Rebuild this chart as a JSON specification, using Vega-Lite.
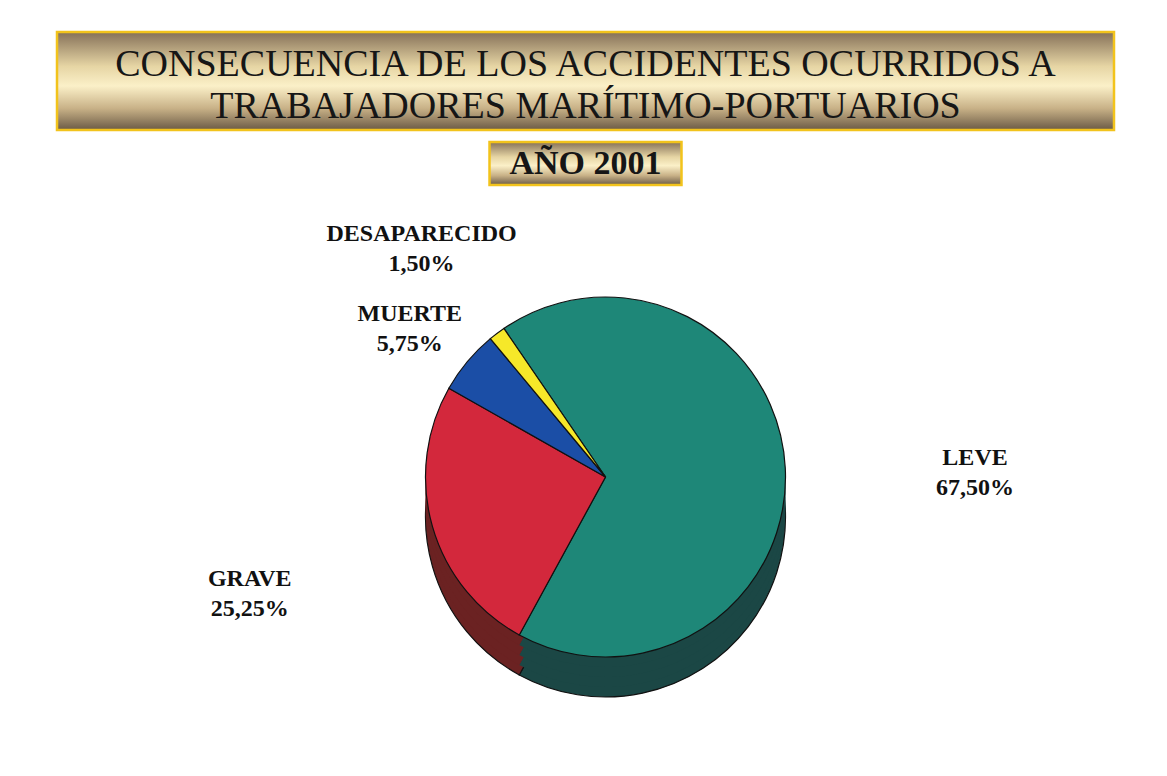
{
  "$schema": "https://vega.github.io/schema/vega-lite/v6.json",
  "background": "white",
  "padding": {"top": 30, "left": 55, "right": 0, "bottom": 0},
  "config": {"view": {"stroke": null}, "font": "Liberation Serif"},
  "spacing": 12,
  "center": true,
  "bounds": "flush",
  "vconcat": [
    {
      "width": 1057,
      "height": 98,
      "data": {"values": [{"titulo": "CONSECUENCIA DE LOS ACCIDENTES OCURRIDOS A\nTRABAJADORES MARÍTIMO-PORTUARIOS"}]},
      "layer": [
        {
          "mark": {
            "type": "rect",
            "color": {"gradient": "linear", "x1": 0, "y1": 0, "x2": 0, "y2": 1,
              "stops": [
                {"offset": 0, "color": "#857058"},
                {"offset": 0.35, "color": "#e6d5a4"},
                {"offset": 0.55, "color": "#fbf0c8"},
                {"offset": 0.78, "color": "#c8b187"},
                {"offset": 1, "color": "#6b5a45"}
              ]},
            "stroke": "#f2c31c",
            "strokeWidth": 2.5
          },
          "encoding": {}
        },
        {
          "mark": {"type": "text", "lineBreak": "\n", "fontSize": 38, "lineHeight": 42, "dy": -16, "color": "#161616", "font": "Liberation Serif"},
          "encoding": {"text": {"field": "titulo", "type": "nominal"}}
        }
      ]
    },
    {
      "width": 192,
      "height": 43,
      "data": {"values": [{"titulo": "AÑO 2001"}]},
      "layer": [
        {
          "mark": {
            "type": "rect",
            "color": {"gradient": "linear", "x1": 0, "y1": 0, "x2": 0, "y2": 1,
              "stops": [
                {"offset": 0, "color": "#857058"},
                {"offset": 0.35, "color": "#e6d5a4"},
                {"offset": 0.55, "color": "#fbf0c8"},
                {"offset": 0.78, "color": "#c8b187"},
                {"offset": 1, "color": "#6b5a45"}
              ]},
            "stroke": "#f2c31c",
            "strokeWidth": 2.5
          },
          "encoding": {}
        },
        {
          "mark": {"type": "text", "fontSize": 34, "fontWeight": "bold", "color": "#161616", "font": "Liberation Serif"},
          "encoding": {"text": {"field": "titulo", "type": "nominal"}}
        }
      ]
    },
    {
      "width": 1057,
      "height": 570,
      "data": {"values": [
        {"categoria": "LEVE", "porcentaje": 67.5, "orden": 1, "etiqueta": "LEVE\n67,50%"},
        {"categoria": "GRAVE", "porcentaje": 25.25, "orden": 2, "etiqueta": "GRAVE\n25,25%"},
        {"categoria": "MUERTE", "porcentaje": 5.75, "orden": 3, "etiqueta": "MUERTE\n5,75%"},
        {"categoria": "DESAPARECIDO", "porcentaje": 1.5, "orden": 4, "etiqueta": "DESAPARECIDO\n1,50%"}
      ]},
      "encoding": {
        "theta": {"field": "porcentaje", "type": "quantitative", "stack": true, "scale": {"range": [-0.6, 5.6832]}},
        "order": {"field": "orden", "type": "quantitative"}
      },
      "layer": [
        {
          "mark": {"type": "arc", "outerRadius": 180, "xOffset": 20, "yOffset": 35, "stroke": "#111111", "strokeWidth": 1.2},
          "encoding": {"fill": {"field": "categoria", "type": "nominal", "scale": {"domain": ["LEVE", "GRAVE", "MUERTE", "DESAPARECIDO"], "range": ["#1b4745", "#6b2222", "#15306a", "#8a8420"]}, "legend": null}}
        },
        {
          "mark": {"type": "arc", "outerRadius": 180, "xOffset": 20, "yOffset": 25},
          "encoding": {"fill": {"field": "categoria", "type": "nominal", "legend": null}}
        },
        {
          "mark": {"type": "arc", "outerRadius": 180, "xOffset": 20, "yOffset": 15},
          "encoding": {"fill": {"field": "categoria", "type": "nominal", "legend": null}}
        },
        {
          "mark": {"type": "arc", "outerRadius": 180, "xOffset": 20, "yOffset": 5},
          "encoding": {"fill": {"field": "categoria", "type": "nominal", "legend": null}}
        },
        {
          "mark": {"type": "arc", "outerRadius": 180, "xOffset": 20, "yOffset": -5, "stroke": "#111111", "strokeWidth": 1.2},
          "encoding": {"color": {"field": "categoria", "type": "nominal", "scale": {"domain": ["LEVE", "GRAVE", "MUERTE", "DESAPARECIDO"], "range": ["#1e8778", "#d3283c", "#1b4ea6", "#f6e829"]}, "legend": null}}
        },
        {
          "mark": {"type": "text", "radius": 370, "xOffset": 20, "yOffset": -5, "lineBreak": "\n", "fontSize": 24, "fontWeight": "bold", "font": "Liberation Serif", "color": "#111111", "lineHeight": 30},
          "encoding": {
            "text": {"field": "etiqueta", "type": "nominal"},
            "opacity": {"condition": {"test": "datum.categoria == 'LEVE' || datum.categoria == 'GRAVE'", "value": 1}, "value": 0}
          }
        },
        {
          "mark": {"type": "text", "radius": 255, "xOffset": 20, "yOffset": -5, "lineBreak": "\n", "fontSize": 24, "fontWeight": "bold", "font": "Liberation Serif", "color": "#111111", "lineHeight": 30},
          "encoding": {
            "text": {"field": "etiqueta", "type": "nominal"},
            "opacity": {"condition": {"test": "datum.categoria == 'MUERTE'", "value": 1}, "value": 0}
          }
        },
        {
          "mark": {"type": "text", "radius": 305, "xOffset": 20, "yOffset": -5, "lineBreak": "\n", "fontSize": 24, "fontWeight": "bold", "font": "Liberation Serif", "color": "#111111", "lineHeight": 30},
          "encoding": {
            "text": {"field": "etiqueta", "type": "nominal"},
            "opacity": {"condition": {"test": "datum.categoria == 'DESAPARECIDO'", "value": 1}, "value": 0}
          }
        }
      ]
    }
  ]
}
